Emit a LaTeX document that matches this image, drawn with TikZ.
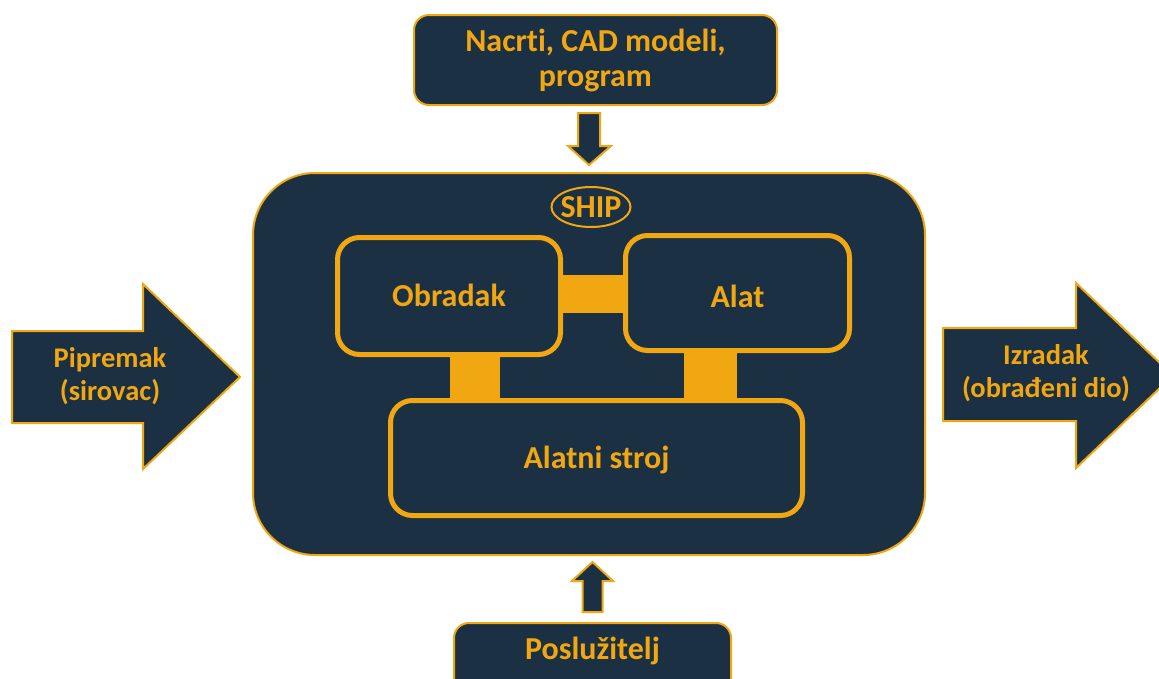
\documentclass[tikz,border=0pt]{standalone}
\usepackage{fontspec}
\setmainfont{Carlito}[Ligatures=NoCommon]
\usetikzlibrary{shapes.geometric,calc}
\definecolor{navy}{RGB}{28,48,67}
\definecolor{amber}{RGB}{240,167,17}
\begin{document}
\begin{tikzpicture}[x=1pt,y=-1pt,
 txt/.style={text=amber, font=\fontsize{32}{35}\selectfont\bfseries, align=center},
 smalltxt/.style={text=amber, font=\fontsize{28.5}{33}\selectfont\bfseries, align=center},
 outerbox/.style={draw=amber, fill=navy, line width=2pt, rounded corners=62pt, inner sep=0pt},
 innerbox/.style={draw=amber, fill=navy, line width=5pt, rounded corners=22pt, txt, text height=20.6pt, text depth=0pt},
 plainbox/.style={draw=amber, fill=navy, line width=2pt, rounded corners=15pt, txt},
 blockarrow/.style={draw=amber, fill=navy, line width=2pt, line join=miter},
 link/.style={draw=amber, line width=#1}]
\useasboundingbox (0,0) rectangle (1159,678);
% main system box
\node[outerbox, minimum width=672pt, minimum height=382pt] (ship) at (589,364) {};
\node[ellipse, draw=amber, line width=2pt, minimum width=79pt, minimum height=40pt, inner sep=0pt,
      label={[txt, text height=20.6pt, text depth=0pt]center:SHIP}] (shiplbl) at (591,207) {};
% inner elements
\node[innerbox, minimum width=223pt, minimum height=117pt] (obr) at (449,296) {Obradak};
\node[innerbox, minimum width=224pt, minimum height=115pt, text height=28.6pt] (alat) at (737.5,293) {Alat};
\node[innerbox, minimum width=412pt, minimum height=115pt] (stroj) at (596.5,458) {Alatni stroj};
% links between elements
\coordinate (hc) at (0,294);
\coordinate (v1) at (475,0);
\coordinate (v2) at (710.5,0);
\draw[link=38pt] (obr.east |- hc) -- (alat.west |- hc);
\draw[link=50pt] (obr.south -| v1) -- (stroj.north -| v1);
\draw[link=53pt] (alat.south -| v2) -- (stroj.north -| v2);
% top input
\node[plainbox, minimum width=363pt, minimum height=90pt] (plan) at (595.5,60) {Nacrti, CAD modeli,\\program};
\draw[blockarrow] ($(ship.north)+(-11,-59)$) -- ($(ship.north)+(11,-59)$) -- ($(ship.north)+(11,-26)$)
  -- ($(ship.north)+(22,-26)$) -- ($(ship.north)+(0,-7)$) -- ($(ship.north)+(-21,-26)$)
  -- ($(ship.north)+(-11,-26)$) -- cycle;
% bottom operator
\node[plainbox, anchor=north, minimum width=277pt, inner sep=0pt, text height=36pt, text depth=42pt] (oper) at (592.5,622) {Poslužitelj};
\draw[blockarrow] ($(oper.north)+(-10,-10)$) -- ($(oper.north)+(10,-10)$) -- ($(oper.north)+(10,-41)$)
  -- ($(oper.north)+(20.5,-41)$) -- ($(oper.north)+(0,-60)$) -- ($(oper.north)+(-20.5,-41)$)
  -- ($(oper.north)+(-10,-41)$) -- cycle;
% left input arrow
\draw[blockarrow] (12,331) -- (143,331) -- (143,284) -- (240,377) -- (143,469) -- (143,423) -- (12,423) -- cycle;
\node[smalltxt] (inp) at (110,376) {Pipremak\\(sirovac)};
% right output arrow
\draw[blockarrow] (943,328) -- (1076,328) -- (1076,283) -- (1173,375.5) -- (1076,468) -- (1076,421) -- (943,421) -- cycle;
\node[smalltxt] (outp) at (1046,373) {Izradak\\(obrađeni dio)};
\end{tikzpicture}
\end{document}
